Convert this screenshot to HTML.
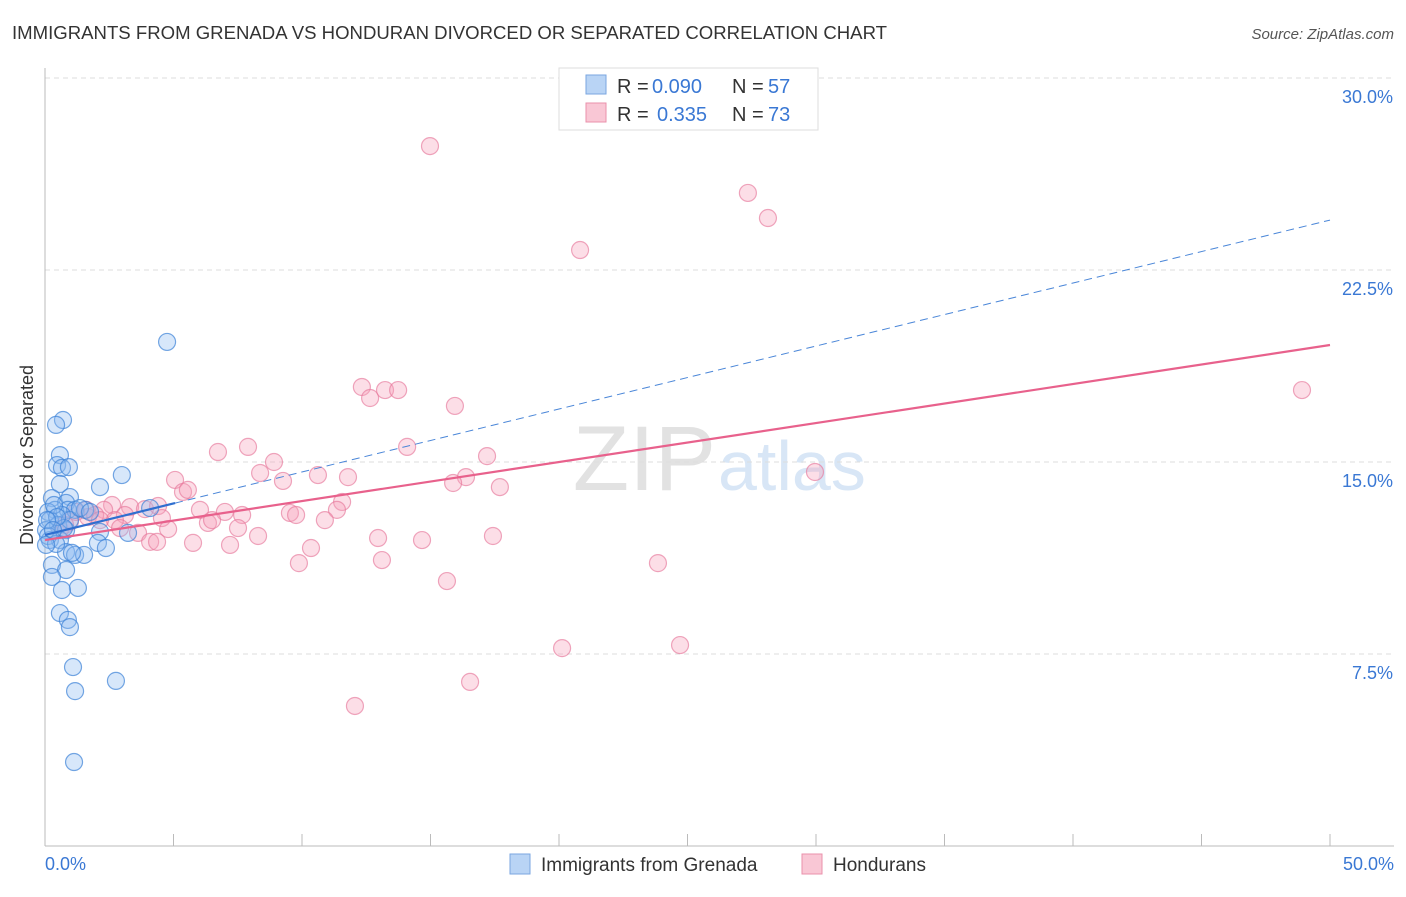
<!DOCTYPE html>
<html><head><meta charset="utf-8"><style>
body{margin:0;background:#fff;font-family:"Liberation Sans",sans-serif}
svg text{font-family:"Liberation Sans",sans-serif}
</style></head><body>
<svg width="1406" height="892" xmlns="http://www.w3.org/2000/svg">
<text x="12" y="39" font-size="18" fill="#333" textLength="875" lengthAdjust="spacingAndGlyphs">IMMIGRANTS FROM GRENADA VS HONDURAN DIVORCED OR SEPARATED CORRELATION CHART</text>
<text x="1394" y="39" font-size="15" fill="#555" font-style="italic" text-anchor="end">Source: ZipAtlas.com</text>
<text x="716" y="490" font-size="92" fill="#e2e2e2" text-anchor="end" font-family="Liberation Serif">ZIP</text>
<text x="718" y="490" font-size="70" fill="#d8e6f6">atlas</text>
<g id="grid"></g>
<g id="axes"></g>
<text transform="translate(33,455) rotate(-90)" font-size="18" fill="#333" text-anchor="middle">Divorced or Separated</text>
<g id="pts"></g>
<g id="trend"></g>
<g>
<rect x="559" y="68" width="259" height="62" fill="#fff" stroke="#ddd"/>
<rect x="586" y="75" width="20" height="19" fill="#b9d4f5" stroke="#7aa6e0"/>
<rect x="586" y="103" width="20" height="19" fill="#f9c7d5" stroke="#ea90ab"/>
<text x="617" y="93" font-size="20" fill="#333">R =</text>
<text x="652" y="93" font-size="20" fill="#3a78d4">0.090</text>
<text x="732" y="93" font-size="20" fill="#333">N =</text>
<text x="768" y="93" font-size="20" fill="#3a78d4">57</text>
<text x="617" y="121" font-size="20" fill="#333">R =</text>
<text x="657" y="121" font-size="20" fill="#3a78d4">0.335</text>
<text x="732" y="121" font-size="20" fill="#333">N =</text>
<text x="768" y="121" font-size="20" fill="#3a78d4">73</text>
</g>
<g>
<rect x="510" y="854" width="20" height="20" fill="#b9d4f5" stroke="#7aa6e0"/>
<text x="541" y="871" font-size="19" fill="#333">Immigrants from Grenada</text>
<rect x="802" y="854" width="20" height="20" fill="#f9c7d5" stroke="#ea90ab"/>
<text x="833" y="871" font-size="19" fill="#333">Hondurans</text>
</g>
</svg>
<script>
const yTicks=[7.5,15,22.5,30];
const yTickLabels=["7.5%","15.0%","22.5%","30.0%"];
const xTickLabels=["0.0%","50.0%"];
const blueX=[4.75,0.70,0.43,0.58,0.47,0.66,0.93,2.99,2.14,0.58,0.97,0.27,0.82,4.09,0.39,0.89,1.17,0.12,0.66,1.56,0.19,0.51,0.04,0.82,2.14,3.23,0.19,0.58,2.06,2.37,0.82,1.17,1.52,0.27,0.82,0.27,1.28,0.66,0.58,0.89,0.97,1.09,2.76,1.17,1.13,0.12,0.43,0.04,0.97,0.35,1.36,0.74,1.05,1.75,0.47,0.08,0.31];
const blueY=[19.69,16.64,16.45,15.27,14.88,14.77,14.80,14.49,14.02,14.14,13.63,13.59,13.40,13.20,13.13,13.13,13.13,13.05,12.93,13.13,12.73,12.54,12.34,12.34,12.27,12.23,11.95,11.95,11.84,11.64,11.48,11.37,11.37,10.98,10.78,10.51,10.08,10.00,9.10,8.83,8.55,6.99,6.45,6.05,3.28,12.11,11.80,11.76,12.73,13.32,13.20,12.42,11.45,13.05,12.85,12.73,12.34];
const pinkX=[14.98,27.35,28.13,20.82,48.91,12.33,12.65,13.23,13.74,15.95,14.09,6.73,7.90,8.91,8.37,17.20,10.62,11.79,9.26,5.06,5.37,5.56,16.38,15.88,17.70,29.96,2.61,3.31,3.89,4.40,3.11,2.30,1.60,6.03,7.00,7.67,9.53,9.77,11.56,11.36,10.89,4.55,6.34,6.50,4.79,3.62,7.51,8.29,4.09,4.36,5.76,7.20,10.35,12.96,14.67,17.43,9.88,13.11,15.64,23.85,20.12,24.71,16.54,12.06,1.67,0.97,1.95,2.72,0.58,1.21,2.14,2.92,0.78];
const pinkY=[27.34,25.51,24.53,23.28,17.81,17.93,17.50,17.81,17.81,17.19,15.59,15.39,15.59,15.00,14.57,15.23,14.49,14.41,14.26,14.30,13.83,13.91,14.41,14.18,14.02,14.61,13.32,13.24,13.16,13.28,12.93,13.13,13.13,13.13,13.05,12.93,13.01,12.93,13.44,13.13,12.73,12.81,12.62,12.73,12.38,12.23,12.42,12.11,11.88,11.88,11.84,11.76,11.64,12.03,11.95,12.11,11.05,11.17,10.35,11.05,7.73,7.85,6.41,5.47,12.85,12.66,12.93,12.73,12.34,13.05,12.73,12.42,12.54];
const blueTrend=[12.15,24.45];
const pinkTrend=[11.95,19.57];
const NS="http://www.w3.org/2000/svg";
const X0=45,X1=1330,Y0=846,YS=25.6;
const xs=v=>X0+(X1-X0)*v/50, ys=v=>Y0-v*YS;
function mk(t,a,p){const e=document.createElementNS(NS,t);for(const k in a)e.setAttribute(k,a[k]);p.appendChild(e);return e;}
const grid=document.getElementById('grid'),axes=document.getElementById('axes');
yTicks.forEach((v,i)=>{
 const l=mk('line',{x1:X0,x2:1394,y1:ys(v),y2:ys(v),stroke:'#ddd','stroke-dasharray':'5,4'},grid);
 
 
 const t=mk('text',{x:1393,y:ys(v)+25,'font-size':18,fill:'#3a78d4','text-anchor':'end'},axes);
 t.textContent=yTickLabels[i];
 
 
});
let a=mk('line',{x1:X0,x2:X0,y1:68,y2:846,stroke:'#bbb'},axes);


a=mk('line',{x1:X0,x2:1394,y1:846,y2:846,stroke:'#bbb'},axes);


for(let i=0;i<=10;i++){const t=mk('line',{x1:xs(i*5),x2:xs(i*5),y1:834,y2:846,stroke:'#bbb'},axes);
 
 }
[[0,'start',45],[50,'end',1394]].forEach((d,i)=>{const t=mk('text',{x:d[2],y:870,'font-size':18,fill:'#3a78d4','text-anchor':d[1]},axes);t.textContent=xTickLabels[i];
 
 });
const pts=document.getElementById('pts');


pinkX.forEach((x,i)=>{const c=mk('circle',{cx:xs(x),cy:ys(pinkY[i]),r:8.5,fill:'rgba(245,160,185,0.35)',stroke:'rgba(230,120,155,0.65)','stroke-width':1.2},pts);
 
 });
blueX.forEach((x,i)=>{const c=mk('circle',{cx:xs(x),cy:ys(blueY[i]),r:8.5,fill:'rgba(140,185,240,0.35)',stroke:'rgba(60,130,215,0.7)','stroke-width':1.2},pts);
 
 });
const tr=document.getElementById('trend');
const bAt=v=>blueTrend[0]+(blueTrend[1]-blueTrend[0])*v/50;
let L=mk('line',{x1:xs(5.06),y1:ys(bAt(5.06)),x2:xs(50),y2:ys(blueTrend[1]),stroke:'#4a86d8','stroke-width':1,'stroke-dasharray':'8,5'},tr);


L=mk('line',{x1:xs(0),y1:ys(pinkTrend[0]),x2:xs(50),y2:ys(pinkTrend[1]),stroke:'#e8618c','stroke-width':2.2},tr);


L=mk('line',{x1:xs(0),y1:ys(blueTrend[0]),x2:xs(5.06),y2:ys(bAt(5.06)),stroke:'#2f6fd0','stroke-width':2.2},tr);


</script>
</body></html>
